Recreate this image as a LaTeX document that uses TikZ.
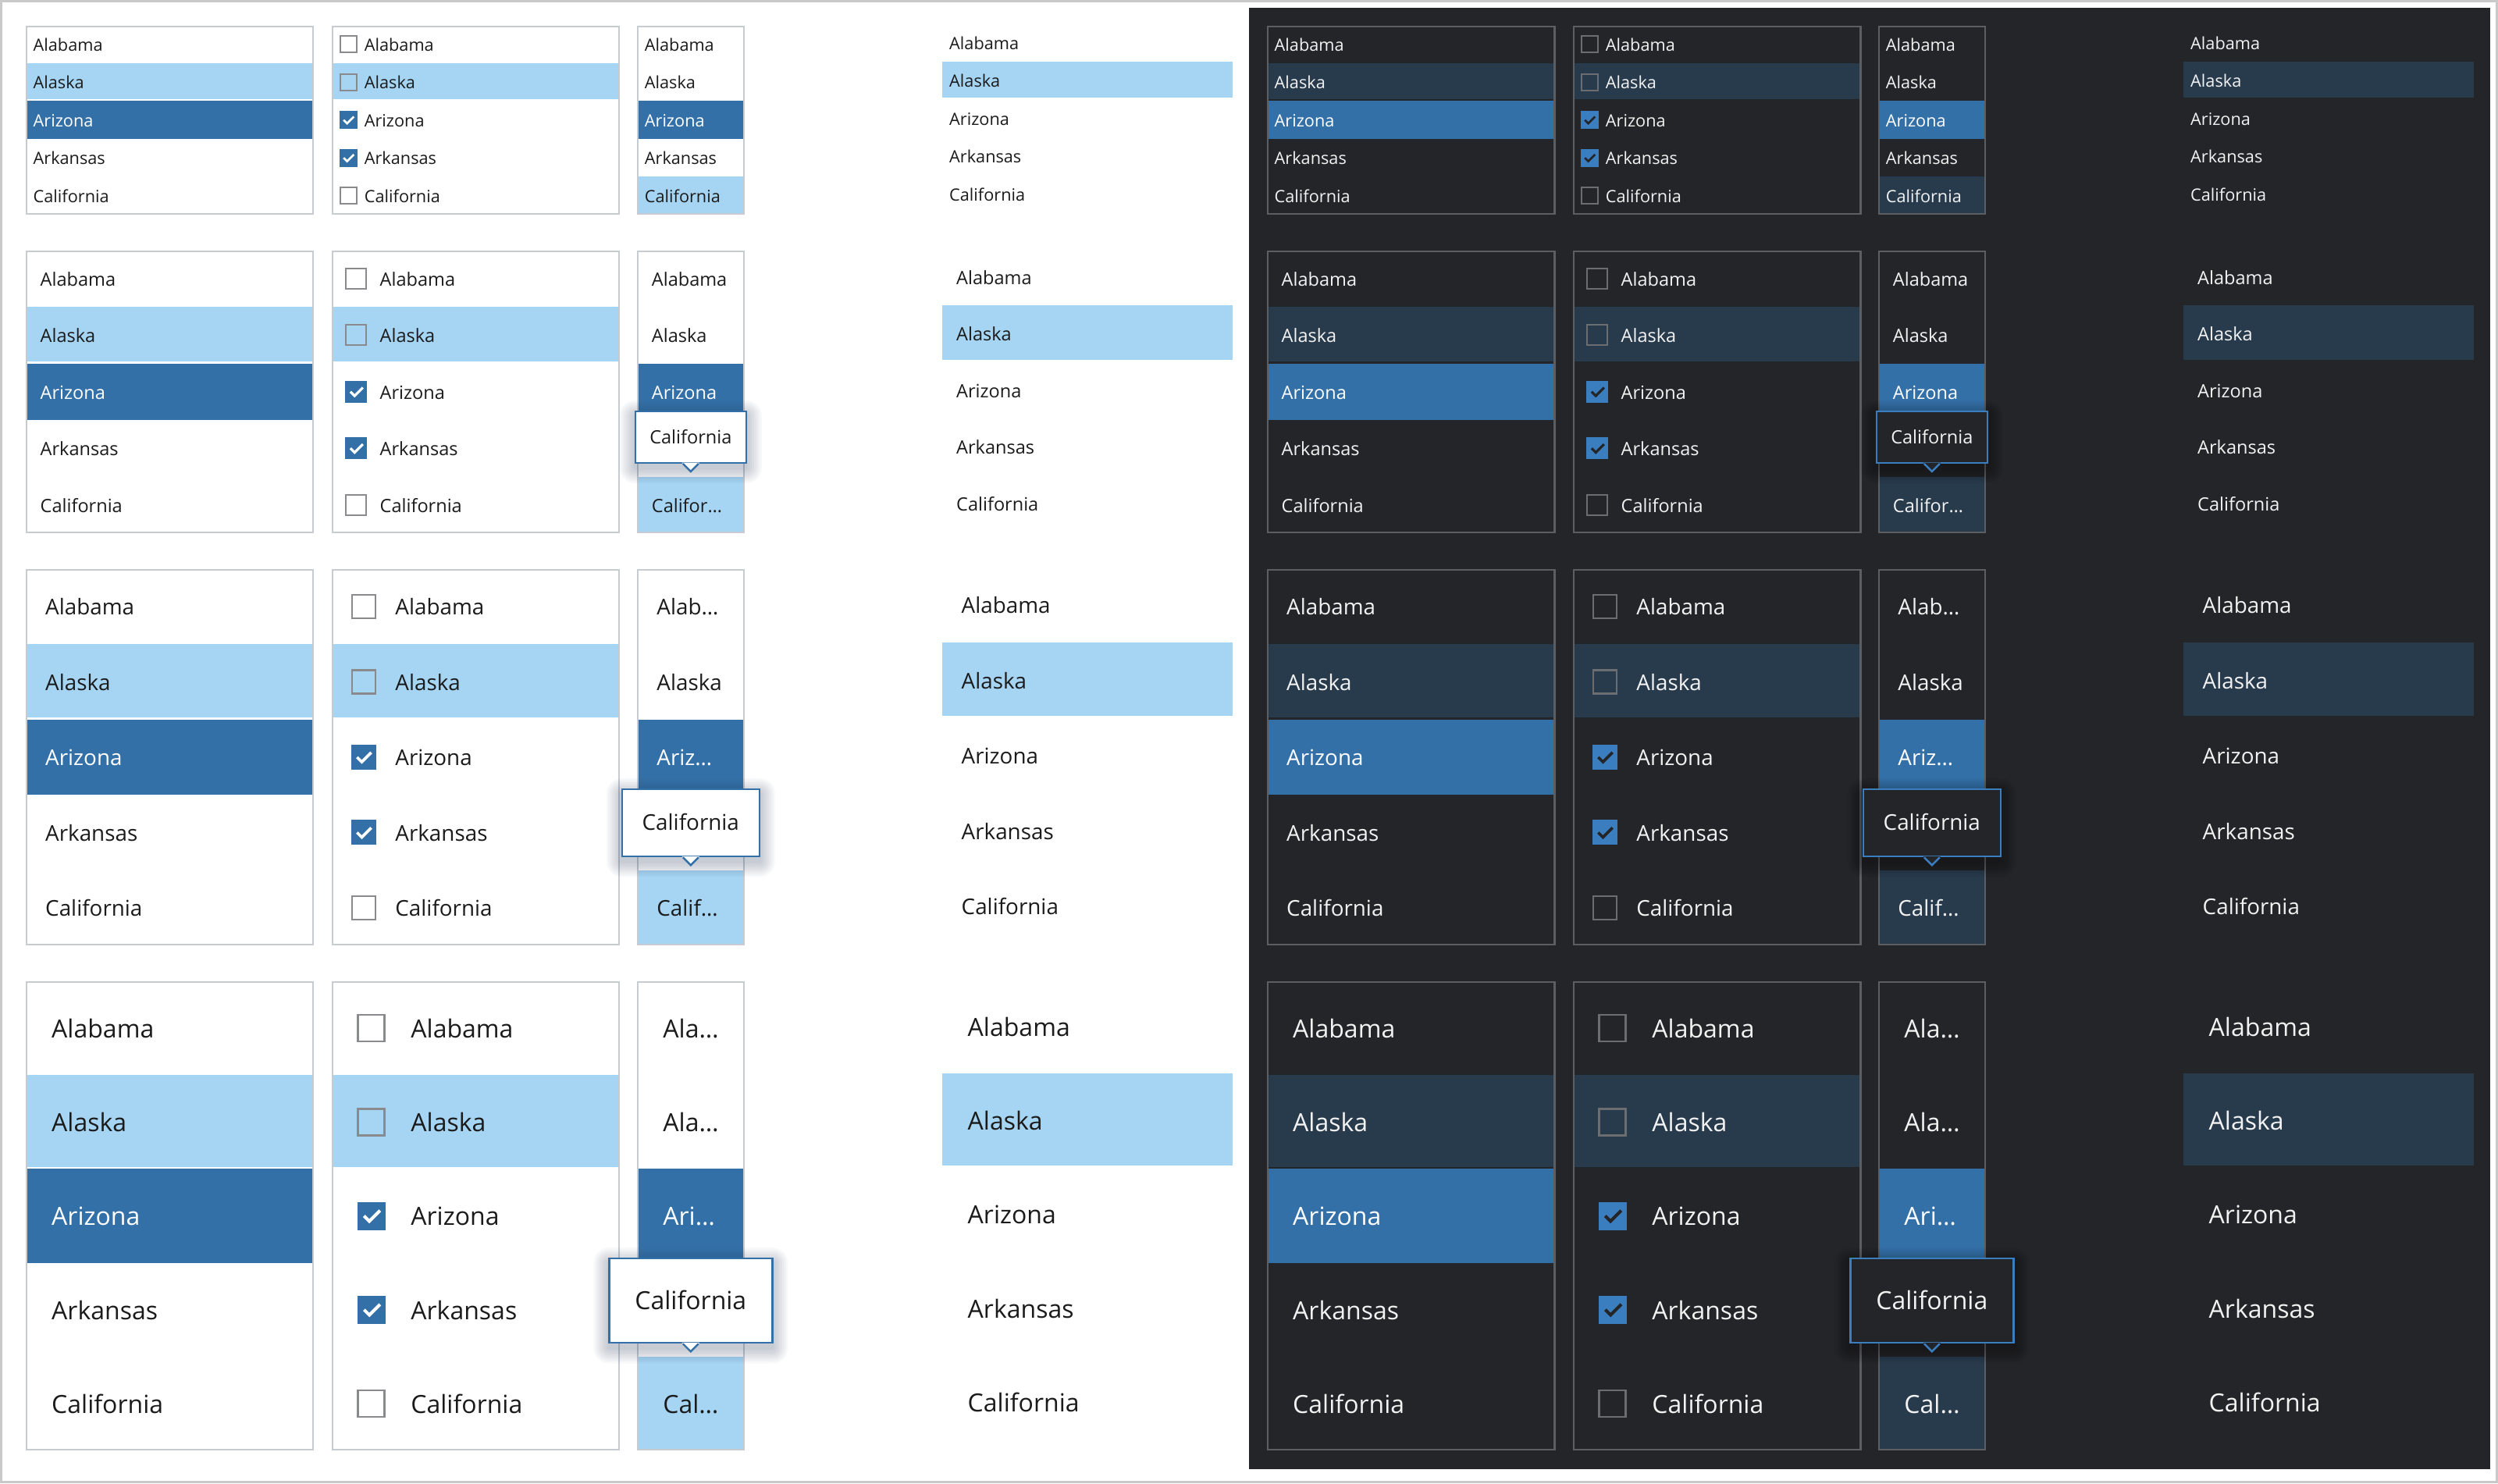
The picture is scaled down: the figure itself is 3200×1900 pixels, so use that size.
\documentclass[tikz,border=0pt]{standalone}
\usepackage{fontspec}
\setmainfont{Open Sans}
\usetikzlibrary{calc}

\definecolor{framegray}{HTML}{C9C9C9}
\definecolor{selblue}{HTML}{3470A8}
\definecolor{darkpanel}{HTML}{242528}
% light theme
\definecolor{lightbg}{HTML}{FFFFFF}
\definecolor{lighttext}{HTML}{1B1B1B}
\definecolor{lighthover}{HTML}{A6D5F4}
\definecolor{lightborder}{HTML}{C6CBD1}
\definecolor{lightbox}{HTML}{898A8E}
\definecolor{lightcheck}{HTML}{3470A8}
\definecolor{lightmark}{HTML}{FFFFFF}
\definecolor{lighttipline}{HTML}{3470A8}
\definecolor{lightshadow}{HTML}{2E3D5C}
% dark theme
\definecolor{darkbg}{HTML}{242528}
\definecolor{darktext}{HTML}{F2F2F2}
\definecolor{darkhover}{HTML}{283B4D}
\definecolor{darkborder}{HTML}{5C5E62}
\definecolor{darkbox}{HTML}{6C6D71}
\definecolor{darkcheck}{HTML}{3B7EBF}
\definecolor{darkmark}{HTML}{242528}
\definecolor{darktipline}{HTML}{3B7EBF}
\definecolor{darkshadow}{HTML}{000000}

\begin{document}
\begin{tikzpicture}[x=0.01cm, y=-0.01cm,
    item/.style={anchor=west, inner sep=0pt, text height=\capht pt, text depth=0pt,
      font=\fontsize{\fs pt}{\fs pt}\selectfont},
    tipbox/.style={inner sep=0pt, text height=\capht pt, text depth=0pt, line width=0.7pt,
      font=\fontsize{\fs pt}{\fs pt}\selectfont}]
  \useasboundingbox (0,0) rectangle (3200,1900);

  % page frame and dark half
  \fill[white] (0,0) rectangle (3200,1900);
  \draw[framegray, line width=0.8pt] (1.4,1.4) rectangle (3198.6,1898.6);
  \fill[darkpanel] (1600,10) rectangle (3190,1882);

  \foreach \dx/\theme in {0/light, 1590/dark} {
    \colorlet{txt}{\theme text}
    \colorlet{hov}{\theme hover}
    \colorlet{brd}{\theme border}
    \colorlet{boxc}{\theme box}
    \colorlet{chk}{\theme check}
    \colorlet{mrk}{\theme mark}
    \colorlet{tipc}{\theme tipline}
    \colorlet{shd}{\theme shadow}
    \colorlet{bgc}{\theme bg}
    \foreach \row/\ytop/\rh/\fs/\ind/\bs/\bo/\bt/\tipw/\tiph/\tA/\tB/\tC/\tE in {
      1/32.5/48.5/6.17/9.5/23/10/41.5/0/0/Alabama/Alaska/Arizona/California,
      2/320.5/72.5/6.69/18.5/28/17.5/61.3/142/66/Alabama/Alaska/Arizona/Califor…,
      3/728.7/96.5/7.91/25/32/25/81/176/86/Alab…/Alaska/Ariz…/Calif…,
      4/1257/120.2/9.10/33/36/33/101/209/108/Ala…/Ala…/Ari…/Cal…
    } {
      \pgfmathsetmacro\capht{0.714*\fs}
      % plain list
      \fill[fill=hov] ({33+\dx},{\ytop+\rh}) rectangle ({402+\dx},{\ytop+2*\rh-2.5});
      \fill[selblue] ({33+\dx},{\ytop+2*\rh}) rectangle ({402+\dx},{\ytop+3*\rh});
      \foreach \idx/\lbl in {0/Alabama, 1/Alaska, 2/Arizona, 3/Arkansas, 4/California} {
        \ifnum\idx=2 \def\txtcol{white}\else\def\txtcol{txt}\fi
        \node[item, text=\txtcol] (plain-\theme-\row-\idx) at ({32.5+\ind+\dx},{\ytop+(\idx+0.5)*\rh+1}) {\lbl};
      }
      \draw[brd, line width=0.7pt] ({33.75+\dx},{\ytop+1.25}) rectangle ({401.25+\dx},{\ytop+5*\rh-1.25});

      % checkbox list
      \fill[fill=hov] ({425+\dx},{\ytop+\rh}) rectangle ({794+\dx},{\ytop+2*\rh-2.5});
      \foreach \idx/\lbl/\ok in {0/Alabama/0, 1/Alaska/0, 2/Arizona/1, 3/Arkansas/1, 4/California/0} {
        \coordinate (box-\theme-\row-\idx) at ({424.7+\bo+\dx},{\ytop+(\idx+0.5)*\rh-\bs/2});
        \ifnum\ok=1
          \fill[chk] (box-\theme-\row-\idx) rectangle ++(\bs,\bs);
          \draw[mrk, line width={0.032pt*\bs}]
            ($(box-\theme-\row-\idx)+({0.24*\bs},{0.5*\bs})$) -- ++({0.19*\bs},{0.19*\bs}) -- ++({0.38*\bs},{-0.38*\bs});
        \else
          \draw[boxc, line width={0.021pt*\bs}] ($(box-\theme-\row-\idx)+(1,1)$) rectangle ++({\bs-2},{\bs-2});
        \fi
        \node[item, text=txt] (check-\theme-\row-\idx) at ({424.7+\bt+\dx},{\ytop+(\idx+0.5)*\rh+1}) {\lbl};
      }
      \draw[brd, line width=0.7pt] ({426+\dx},{\ytop+1.25}) rectangle ({793.25+\dx},{\ytop+5*\rh-1.25});

      % narrow list
      \fill[selblue] ({816+\dx},{\ytop+2*\rh}) rectangle ({953.5+\dx},{\ytop+3*\rh});
      \fill[fill=hov] ({816+\dx},{\ytop+4*\rh}) rectangle ({953.5+\dx},{\ytop+5*\rh});
      \foreach \idx/\lbl in {0/\tA, 1/\tB, 2/\tC, 3/Arkansas, 4/\tE} {
        \pgfmathtruncatemacro\hidden{(\idx==3)&&(\tipw>0)}
        \ifnum\idx=2 \def\txtcol{white}\else\def\txtcol{txt}\fi
        \ifnum\hidden=0
          \node[item, text=\txtcol] (narrow-\theme-\row-\idx) at ({815.7+\ind+\dx},{\ytop+(\idx+0.5)*\rh+1}) {\lbl};
        \fi
      }
      \draw[brd, line width=0.7pt] ({817+\dx},{\ytop+1.25}) rectangle ({952.75+\dx},{\ytop+5*\rh-1.25});

      % tooltip
      \ifnum\tipw>0
        \coordinate (tipat-\theme-\row) at ({884.8+\dx},{\ytop+4*\rh-16.5});
        \foreach \layer in {1,...,8} {
          \pgfmathsetmacro\rc{\layer*0.7}
          \fill[shd, opacity=0.035, rounded corners=\rc pt]
            ($(tipat-\theme-\row)+({-\tipw/2-2.5*\layer},{-\tiph-2.5*\layer+5})$) rectangle
            ($(tipat-\theme-\row)+({\tipw/2+2.5*\layer},{2.5*\layer+5})$);
        }
        \node[tipbox, draw=tipc, fill=bgc, text=txt, minimum width={\tipw*0.01cm},
          minimum height={\tiph*0.01cm}, anchor=south] (tip-\theme-\row) at (tipat-\theme-\row) {California};
        \fill[bgc] ($(tip-\theme-\row.south)+(-11.4,-1.4)$) -- ($(tip-\theme-\row.south)+(0,10)$)
          -- ($(tip-\theme-\row.south)+(11.4,-1.4)$) -- cycle;
        \draw[tipc, line width=0.7pt] ($(tip-\theme-\row.south)+(-10,0)$) -- ($(tip-\theme-\row.south)+(0,10)$)
          -- ($(tip-\theme-\row.south)+(10,0)$);
      \fi

      % borderless list
      \fill[fill=hov] ({1207+\dx},{\ytop-2+\rh}) rectangle ({1579+\dx},{\ytop-2+2*\rh-2.5});
      \foreach \idx/\lbl in {0/Alabama, 1/Alaska, 2/Arizona, 3/Arkansas, 4/California} {
        \node[item, text=txt] (flat-\theme-\row-\idx) at ({1206+\ind+\dx},{\ytop-1+(\idx+0.5)*\rh}) {\lbl};
      }
    }
  }
\end{tikzpicture}
\end{document}
